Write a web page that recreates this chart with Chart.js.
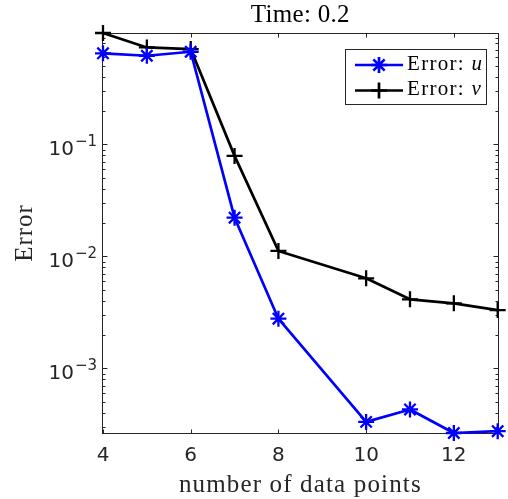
<!DOCTYPE html>
<html>
<head>
<meta charset="utf-8">
<script src="https://cdn.jsdelivr.net/npm/chart.js@4/dist/chart.umd.min.js"></script>
<style>
html,body{margin:0;padding:0;background:#fff;overflow:hidden}
#wrap{width:508px;height:499px;position:relative}
</style>
</head>
<body>
<div id="wrap"><canvas id="c" width="508" height="499"></canvas></div>
<script>
// ---- data ----
const nPoints = [4, 5, 6, 7, 8, 10, 11, 12, 13];
const errorU = [0.652, 0.620, 0.673, 0.0222, 0.00278, 0.000333, 0.00043, 0.000265, 0.000275];
const errorV = [0.99, 0.736, 0.711, 0.0791, 0.0112, 0.00638, 0.00414, 0.00381, 0.00332];
const xTickValues = [4, 6, 8, 10, 12];
const yTickValues = [1e-3, 1e-2, 1e-1];
const yTickExponents = ['\u22123', '\u22122', '\u22121'];
const titleText = 'Time: 0.2';
const xAxisTitle = 'number of data points';
const yAxisTitle = 'Error';
const legendPrefix = ['Error: ', 'Error: '];
const legendVars = ['u', 'v'];

const allVals = errorU.concat(errorV);
const yMin = Math.min.apply(null, allVals);
const yMax = Math.max.apply(null, allVals);

const SERIF = '"Liberation Serif", "Times New Roman", serif';
const SANS = '"DejaVu Sans", sans-serif';
const AXC = '#262626';

function drawSpaced(ctx, text, x, y, spacing) {
  try { ctx.letterSpacing = spacing + 'px'; } catch (e) {}
  ctx.fillText(text, x, y);
  try { ctx.letterSpacing = '0px'; } catch (e) {}
}

const decor = {
  id: 'decor',
  beforeDatasetsDraw(chart) {
    const ctx = chart.ctx, a = chart.chartArea;
    const xs = chart.scales.x, ys = chart.scales.y;
    const L = Math.round(a.left) - 0.5, R = Math.round(a.right) + 0.5;
    const T = Math.round(a.top) + 0.5, B = Math.round(a.bottom) + 0.5;
    ctx.save();
    ctx.strokeStyle = AXC;
    ctx.lineWidth = 1;
    ctx.strokeRect(L, T, R - L, B - T);
    ctx.beginPath();
    // x ticks (bottom + top, inward)
    xTickValues.forEach(v => {
      const px = Math.round(xs.getPixelForValue(v)) + 0.5;
      ctx.moveTo(px, B); ctx.lineTo(px, B - 4);
      ctx.moveTo(px, T); ctx.lineTo(px, T + 4);
    });
    // y ticks: majors and minors (left + right, inward)
    const eMin = Math.floor(Math.log10(yMin)), eMax = Math.ceil(Math.log10(yMax));
    for (let e = eMin; e <= eMax; e++) {
      for (let k = 1; k <= 9; k++) {
        const v = k * Math.pow(10, e);
        if (v < yMin || v > yMax) continue;
        const py = Math.round(ys.getPixelForValue(v)) + 0.5;
        const len = (k === 1) ? 5 : 3;
        ctx.moveTo(L, py); ctx.lineTo(L + len, py);
        ctx.moveTo(R, py); ctx.lineTo(R - len, py);
      }
    }
    ctx.stroke();

    // y tick labels 10^e
    ctx.fillStyle = AXC;
    ctx.textBaseline = 'alphabetic';
    yTickValues.forEach((v, i) => {
      const py = ys.getPixelForValue(v);
      ctx.font = '15px ' + SANS;
      const supW = ctx.measureText(yTickExponents[i]).width;
      const right = a.left - 6;
      ctx.textAlign = 'left';
      ctx.fillText(yTickExponents[i], right - supW, py + 2);
      ctx.font = '20px ' + SANS;
      ctx.textAlign = 'right';
      ctx.fillText('10', right - supW - 1, py + 11);
    });

    // title
    ctx.fillStyle = '#000';
    ctx.font = '25px ' + SERIF;
    ctx.textAlign = 'center';
    drawSpaced(ctx, titleText, (a.left + a.right) / 2, 21.7, 0.3);
    // x axis title
    ctx.fillStyle = AXC;
    drawSpaced(ctx, xAxisTitle, (a.left + a.right) / 2, 491.7, 1.15);
    // y axis title
    ctx.save();
    ctx.translate(31.5, (a.top + a.bottom) / 2);
    ctx.rotate(-Math.PI / 2);
    ctx.textAlign = 'center';
    drawSpaced(ctx, yAxisTitle, 0, 0, 1);
    ctx.restore();
    ctx.restore();
  },
  afterDraw(chart) {
    const ctx = chart.ctx;
    const bx = 345.5, by = 49.5, bw = 141, bh = 55;
    ctx.save();
    ctx.fillStyle = '#fff';
    ctx.fillRect(bx, by, bw, bh);
    ctx.strokeStyle = AXC;
    ctx.lineWidth = 1;
    ctx.strokeRect(bx, by, bw, bh);
    const rows = [65, 90.5];
    chart.data.datasets.forEach((ds, i) => {
      const cy = rows[i];
      ctx.strokeStyle = ds.borderColor;
      ctx.lineWidth = ds.borderWidth;
      ctx.beginPath();
      ctx.moveTo(355, cy); ctx.lineTo(403, cy);
      ctx.stroke();
      Chart.helpers.drawPoint(ctx, {
        pointStyle: ds.pointStyle, radius: ds.pointRadius,
        borderWidth: ds.pointBorderWidth, rotation: 0
      }, 379, cy);
      ctx.fillStyle = '#000';
      ctx.textAlign = 'left';
      ctx.textBaseline = 'alphabetic';
      ctx.font = '21px ' + SERIF;
      try { ctx.letterSpacing = '1.3px'; } catch (e) {}
      const w = ctx.measureText(legendPrefix[i]).width;
      ctx.fillText(legendPrefix[i], 407, cy + 4.5);
      ctx.font = 'italic 21px ' + SERIF;
      ctx.fillText(legendVars[i], 407 + w, cy + 4.5);
      try { ctx.letterSpacing = '0px'; } catch (e) {}
    });
    ctx.restore();
  }
};

new Chart(document.getElementById('c'), {
  type: 'line',
  data: {
    datasets: [
      {
        label: 'Error: u',
        data: nPoints.map((x, i) => ({ x: x, y: errorU[i] })),
        borderColor: '#0000ff', backgroundColor: '#0000ff',
        borderWidth: 2.7, borderJoinStyle: 'round',
        pointStyle: 'star', pointRadius: 8, pointBorderWidth: 2.3,
        pointBorderColor: '#0000ff', pointBackgroundColor: '#0000ff',
        pointHoverRadius: 8, tension: 0, clip: false
      },
      {
        label: 'Error: v',
        data: nPoints.map((x, i) => ({ x: x, y: errorV[i] })),
        borderColor: '#000000', backgroundColor: '#000000',
        borderWidth: 2.7, borderJoinStyle: 'round',
        pointStyle: 'cross', pointRadius: 8, pointBorderWidth: 2.3,
        pointBorderColor: '#000000', pointBackgroundColor: '#000000',
        pointHoverRadius: 8, tension: 0, clip: false
      }
    ]
  },
  options: {
    responsive: false,
    animation: false,
    events: [],
    layout: { padding: { top: 33, right: 5, left: 0, bottom: 0 } },
    plugins: { legend: { display: false }, title: { display: false }, tooltip: { enabled: false } },
    scales: {
      x: {
        type: 'linear', min: nPoints[0], max: nPoints[nPoints.length - 1],
        grid: { display: false, drawTicks: false },
        border: { display: false },
        ticks: { color: AXC, font: { family: 'DejaVu Sans', size: 20 }, padding: 11, maxRotation: 0 },
        afterBuildTicks: s => { s.ticks = xTickValues.map(v => ({ value: v })); },
        afterFit: s => { s.height = 66; }
      },
      y: {
        type: 'logarithmic', min: yMin, max: yMax,
        grid: { display: false, drawTicks: false },
        border: { display: false },
        ticks: { display: false },
        afterBuildTicks: s => { s.ticks = yTickValues.map(v => ({ value: v })); },
        afterFit: s => { s.width = 103; }
      }
    }
  },
  plugins: [decor]
});
</script>
</body>
</html>
